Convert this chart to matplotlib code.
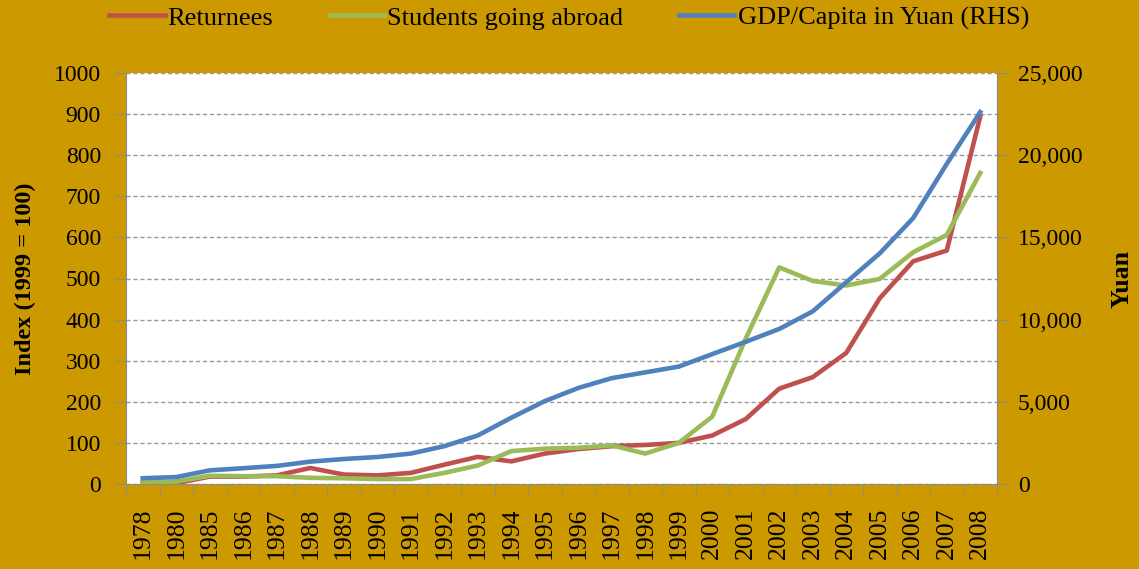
import numpy as np
import matplotlib
matplotlib.use('Agg')
import matplotlib.pyplot as plt
from matplotlib.ticker import FuncFormatter

#Data
years = ['1978', '1980', '1985', '1986', '1987', '1988', '1989', '1990', '1991', '1992',
         '1993', '1994', '1995', '1996', '1997', '1998', '1999', '2000', '2001', '2002',
         '2003', '2004', '2005', '2006', '2007', '2008']
returnees = [3, 2, 18, 18, 21, 39, 23, 21, 27, 47, 66, 55, 74, 85, 92, 95, 100, 118,
             158, 232, 260, 319, 452, 542, 568, 894]
students = [4, 6, 20, 19, 19, 15, 14, 12, 12, 27, 45, 80, 86, 88, 94, 74, 100, 164,
            354, 527, 494, 483, 499, 564, 606, 757]
gdp = [350, 420, 830, 960, 1100, 1360, 1520, 1640, 1850, 2300, 2950, 4030, 5040, 5840,
       6440, 6790, 7140, 7900, 8650, 9430, 10500, 12270, 14030, 16180, 19470, 22620]
left_ticks = list(range(0, 1001, 100))
right_ticks = list(range(0, 25001, 5000))

plt.rcParams['font.family'] = ['Liberation Serif', 'DejaVu Serif']
gold = '#CC9900'
grey = '#8C8C8C'

fig = plt.figure(figsize=(11.39, 5.69), dpi=100, facecolor=gold)
W, H = 1139, 569
ax = fig.add_axes([126/W, 1-484/H, 871/W, 411/H])
ax.set_facecolor('white')
x = np.arange(len(years))

l1, = ax.plot(x, returnees, color='#C0504D', lw=3.3, label='Returnees', zorder=3)
l2, = ax.plot(x, students, color='#9BBB59', lw=3.3, label='Students going abroad', zorder=3)
ax.set_xlim(-0.5, len(years)-0.5)
ax.set_ylim(0, 1000)
ax.set_yticks(left_ticks)
ax.tick_params(axis='y', labelsize=17, length=8, color=grey, pad=10)
ax.yaxis.grid(True, color='#999999', linestyle=(0, (3, 2)), lw=1)
ax.set_axisbelow(True)

#labels at category centres, ticks at the boundaries
ax.set_xticks(x)
ax.set_xticklabels(years, rotation=90, fontsize=18.5)
ax.tick_params(axis='x', which='major', length=0, pad=17)
ax.set_xticks(np.arange(-0.5, len(years), 1), minor=True)
ax.tick_params(axis='x', which='minor', length=8, color=grey)
for s in ['left', 'bottom', 'right']:
    ax.spines[s].set_color(grey)
ax.spines['top'].set_visible(False)
ax.set_ylabel('Index (1999 = 100)', fontsize=17.5, fontweight='bold', labelpad=13)

#GDP on right axis
ax2 = ax.twinx()
l3, = ax2.plot(x, gdp, color='#4F81BD', lw=3.3, label='GDP/Capita in Yuan (RHS)')
ax2.set_ylim(0, 25000)
ax2.set_yticks(right_ticks)
ax2.yaxis.set_major_formatter(FuncFormatter(lambda v, p: '{:,.0f}'.format(v)))
ax2.tick_params(axis='y', labelsize=17, length=8, color=grey, pad=7)
for s in ['left', 'bottom', 'top']:
    ax2.spines[s].set_visible(False)
ax2.spines['right'].set_color(grey)
ax2.set_ylabel('Yuan', fontsize=18.5, fontweight='bold', labelpad=20)

fig.legend(handles=[l1, l2, l3], loc='center', bbox_to_anchor=(569/W, 1-18/H),
           ncol=3, frameon=False, fontsize=19, handlelength=2.1,
           handletextpad=0.12, columnspacing=2.1)

plt.savefig('out.png', dpi=100, facecolor=gold)
